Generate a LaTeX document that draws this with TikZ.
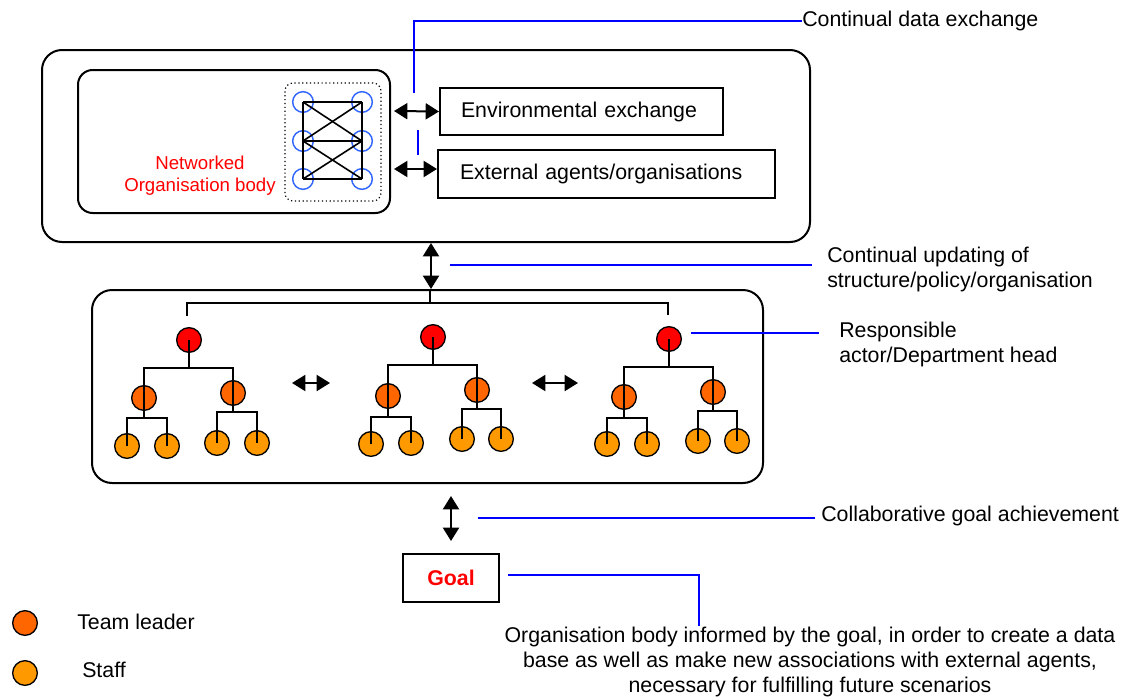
\documentclass[tikz,border=0pt]{standalone}
\usepackage{fontspec}
\setmainfont{Liberation Sans}
\usetikzlibrary{arrows.meta,calc}
\definecolor{netblue}{RGB}{51,102,255}
\definecolor{leader}{RGB}{255,102,0}
\definecolor{staffc}{RGB}{255,153,0}
% parent, left child, right child, drop from parent centre to the bar
\newcommand\fork[4]{%
  \draw[tree] (#1.center) -- ([yshift=-#4]#1.center);
  \draw[tree] (#2.center) |- ([yshift=-#4]#1.center) -| (#3.center);}
\begin{document}
\begin{tikzpicture}[x=0.75pt,y=-0.75pt,
  every node/.style={font=\fontsize{16}{18.5}\selectfont},
  frame/.style={draw,line width=1.5pt,rounded corners=15pt},
  plainbox/.style={draw,line width=1.5pt,align=left,inner ysep=0pt},
  netnode/.style={circle,draw=netblue,line width=1.1pt,minimum size=15.5pt,inner sep=0pt},
  netlink/.style={line width=1.2pt},
  root/.style={circle,draw,line width=1pt,fill=red,minimum size=18.5pt,inner sep=0pt},
  lead/.style={root,fill=leader},
  staff/.style={root,fill=staffc},
  tree/.style={line width=1.3pt},
  dbl/.style={line width=1.5pt,{Triangle[length=10pt,width=12pt]}-{Triangle[length=10pt,width=12pt]}},
  note/.style={inner sep=0pt,align=left},
  blueline/.style={draw=blue,line width=1.2pt}]
\useasboundingbox (0,0) rectangle (1129,700);

% ---- organisation frame ----
\node[frame,minimum width=576pt,minimum height=144pt] (outer) at (426,146) {};
\node[frame,rounded corners=11pt,minimum width=234pt,minimum height=107.25pt] (inner) at (234,141.5) {};
\node[draw,dotted,line width=0.9pt,rounded corners=6pt,minimum width=72pt,minimum height=88.5pt] (netbox) at (333,142) {};
\foreach \n/\x/\y in {n1/303/102, n2/362/102, n3/303/141, n4/362/141, n5/303/179, n6/362/179}
  \node[netnode] (\n) at (\x,\y) {};
\foreach \a/\b in {n1/n2,n3/n4,n5/n6,n1/n3,n3/n5,n2/n4,n4/n6,n1/n4,n2/n3,n3/n6,n4/n5}
  \draw[netlink] (\a.center) -- (\b.center);
\node[text=red,align=center,font=\fontsize{14}{16.5}\selectfont] (netlabel) at (200,176) {Networked\\Organisation body};

\node[plainbox,inner xsep=15.75pt,text width=180.75pt,minimum height=35.25pt] (env) at (581.5,111.5) {Environmental exchange};
\node[plainbox,inner xsep=16.5pt,text width=219.75pt,minimum height=36pt] (ext) at (606.5,174) {External agents/organisations};
\draw[dbl] ($(inner.east)+(3,-30.5)$) -- (env.west);
\draw[dbl] ($(inner.east)+(3,27.5)$) -- ($(ext.west)+(0,-5)$);

\node[note,anchor=west] (cdx) at (802,21) {Continual data exchange};
\coordinate (cdfoot) at (414,93);
\draw[blueline] (cdfoot) |- (cdx.west);
\coordinate (gapA) at (418,130);
\coordinate (gapB) at (418,155);
\draw[blueline] (gapA) -- (gapB);

% ---- departments ----
\node[frame,minimum width=503.25pt,minimum height=144.75pt] (mid) at (427.5,386.5) {};
\draw[dbl] ($(outer.south)+(5,0)$) -- ($(mid.north)+(3.5,0)$);
\node[note,anchor=west] (upd) at (827,269.5) {Continual updating of\\structure/policy/organisation};
\coordinate (updstart) at (450,265);
\draw[blueline] (updstart) -- ($(updstart -| upd.west)+(-15,0)$);

% tree 1
\node[root] (r1) at (189,340) {};
\node[lead] (c1a) at (144,398) {};
\node[lead] (c1b) at (233,393) {};
\node[staff] (s1a) at (127,446) {};
\node[staff] (s1b) at (167,446) {};
\node[staff] (s1c) at (217,443) {};
\node[staff] (s1d) at (257,443) {};
% tree 2
\node[root] (r2) at (433,337) {};
\node[lead] (c2a) at (388,396) {};
\node[lead] (c2b) at (477,390) {};
\node[staff] (s2a) at (371,444) {};
\node[staff] (s2b) at (411,443) {};
\node[staff] (s2c) at (462,439) {};
\node[staff] (s2d) at (501,439) {};
% tree 3
\node[root] (r3) at (669,339) {};
\node[lead] (c3a) at (624,397) {};
\node[lead] (c3b) at (713,392) {};
\node[staff] (s3a) at (607,444) {};
\node[staff] (s3b) at (647,444) {};
\node[staff] (s3c) at (698,441) {};
\node[staff] (s3d) at (737,441) {};

\fork{r1}{c1a}{c1b}{21pt}
\fork{c1a}{s1a}{s1b}{15pt}
\fork{c1b}{s1c}{s1d}{14.25pt}
\fork{r2}{c2a}{c2b}{21pt}
\fork{c2a}{s2a}{s2b}{15.75pt}
\fork{c2b}{s2c}{s2d}{14.25pt}
\fork{r3}{c3a}{c3b}{21pt}
\fork{c3a}{s3a}{s3b}{15.75pt}
\fork{c3b}{s3c}{s3d}{14.25pt}

\coordinate (hub) at ($(mid.north)+(2.5,0)$);
\draw[tree] (hub) -- ++(0,14);
\draw[tree] ($(r1.north)+(-2,-11)$) |- ($(hub)+(0,14)$) -| ($(r3.north)+(-1,-11)$);

\coordinate (h1a) at (292,383);
\coordinate (h1b) at (330,383);
\coordinate (h2a) at (532,383);
\coordinate (h2b) at (578,383);
\draw[dbl] (h1a) -- (h1b);
\draw[dbl] (h2a) -- (h2b);

\node[note,anchor=west] (resp) at (839,344.5) {Responsible\\actor/Department head};
\draw[blueline] ($(r3.east)+(9,-6)$) -- ($(resp.west |- r3.east)+(-20,-6)$);

% ---- goal ----
\node[draw,line width=1.5pt,minimum width=72pt,minimum height=36pt,text=red,
      font=\fontsize{16}{18.5}\selectfont\bfseries] (goal) at (451,578) {Goal};
\draw[dbl] ($(goal.north)+(0,-57)$) -- ($(goal.north)+(0,-12)$);
\node[note,anchor=west] (collab) at (821,516) {Collaborative goal achievement};
\coordinate (collabstart) at (478,518);
\draw[blueline] (collabstart) -- ($(collabstart -| collab.west)+(-6,0)$);

\node[align=center,inner sep=0pt] (summary) at (810,662) {Organisation body informed by the goal, in order to create a data\\base as well as make new associations with external agents,\\necessary for fulfilling future scenarios};
\draw[blueline] ($(goal.east)+(8,-3)$) -| ($(summary.north)+(-111,-1)$);

% ---- key ----
\node[lead] (keylead) at (25,623) {};
\node[note,anchor=west] (keyleadtxt) at (77,622) {Team leader};
\node[staff] (keystaff) at (25,673) {};
\node[note,anchor=west] (keystafftxt) at (82,670) {Staff};
\end{tikzpicture}
\end{document}
